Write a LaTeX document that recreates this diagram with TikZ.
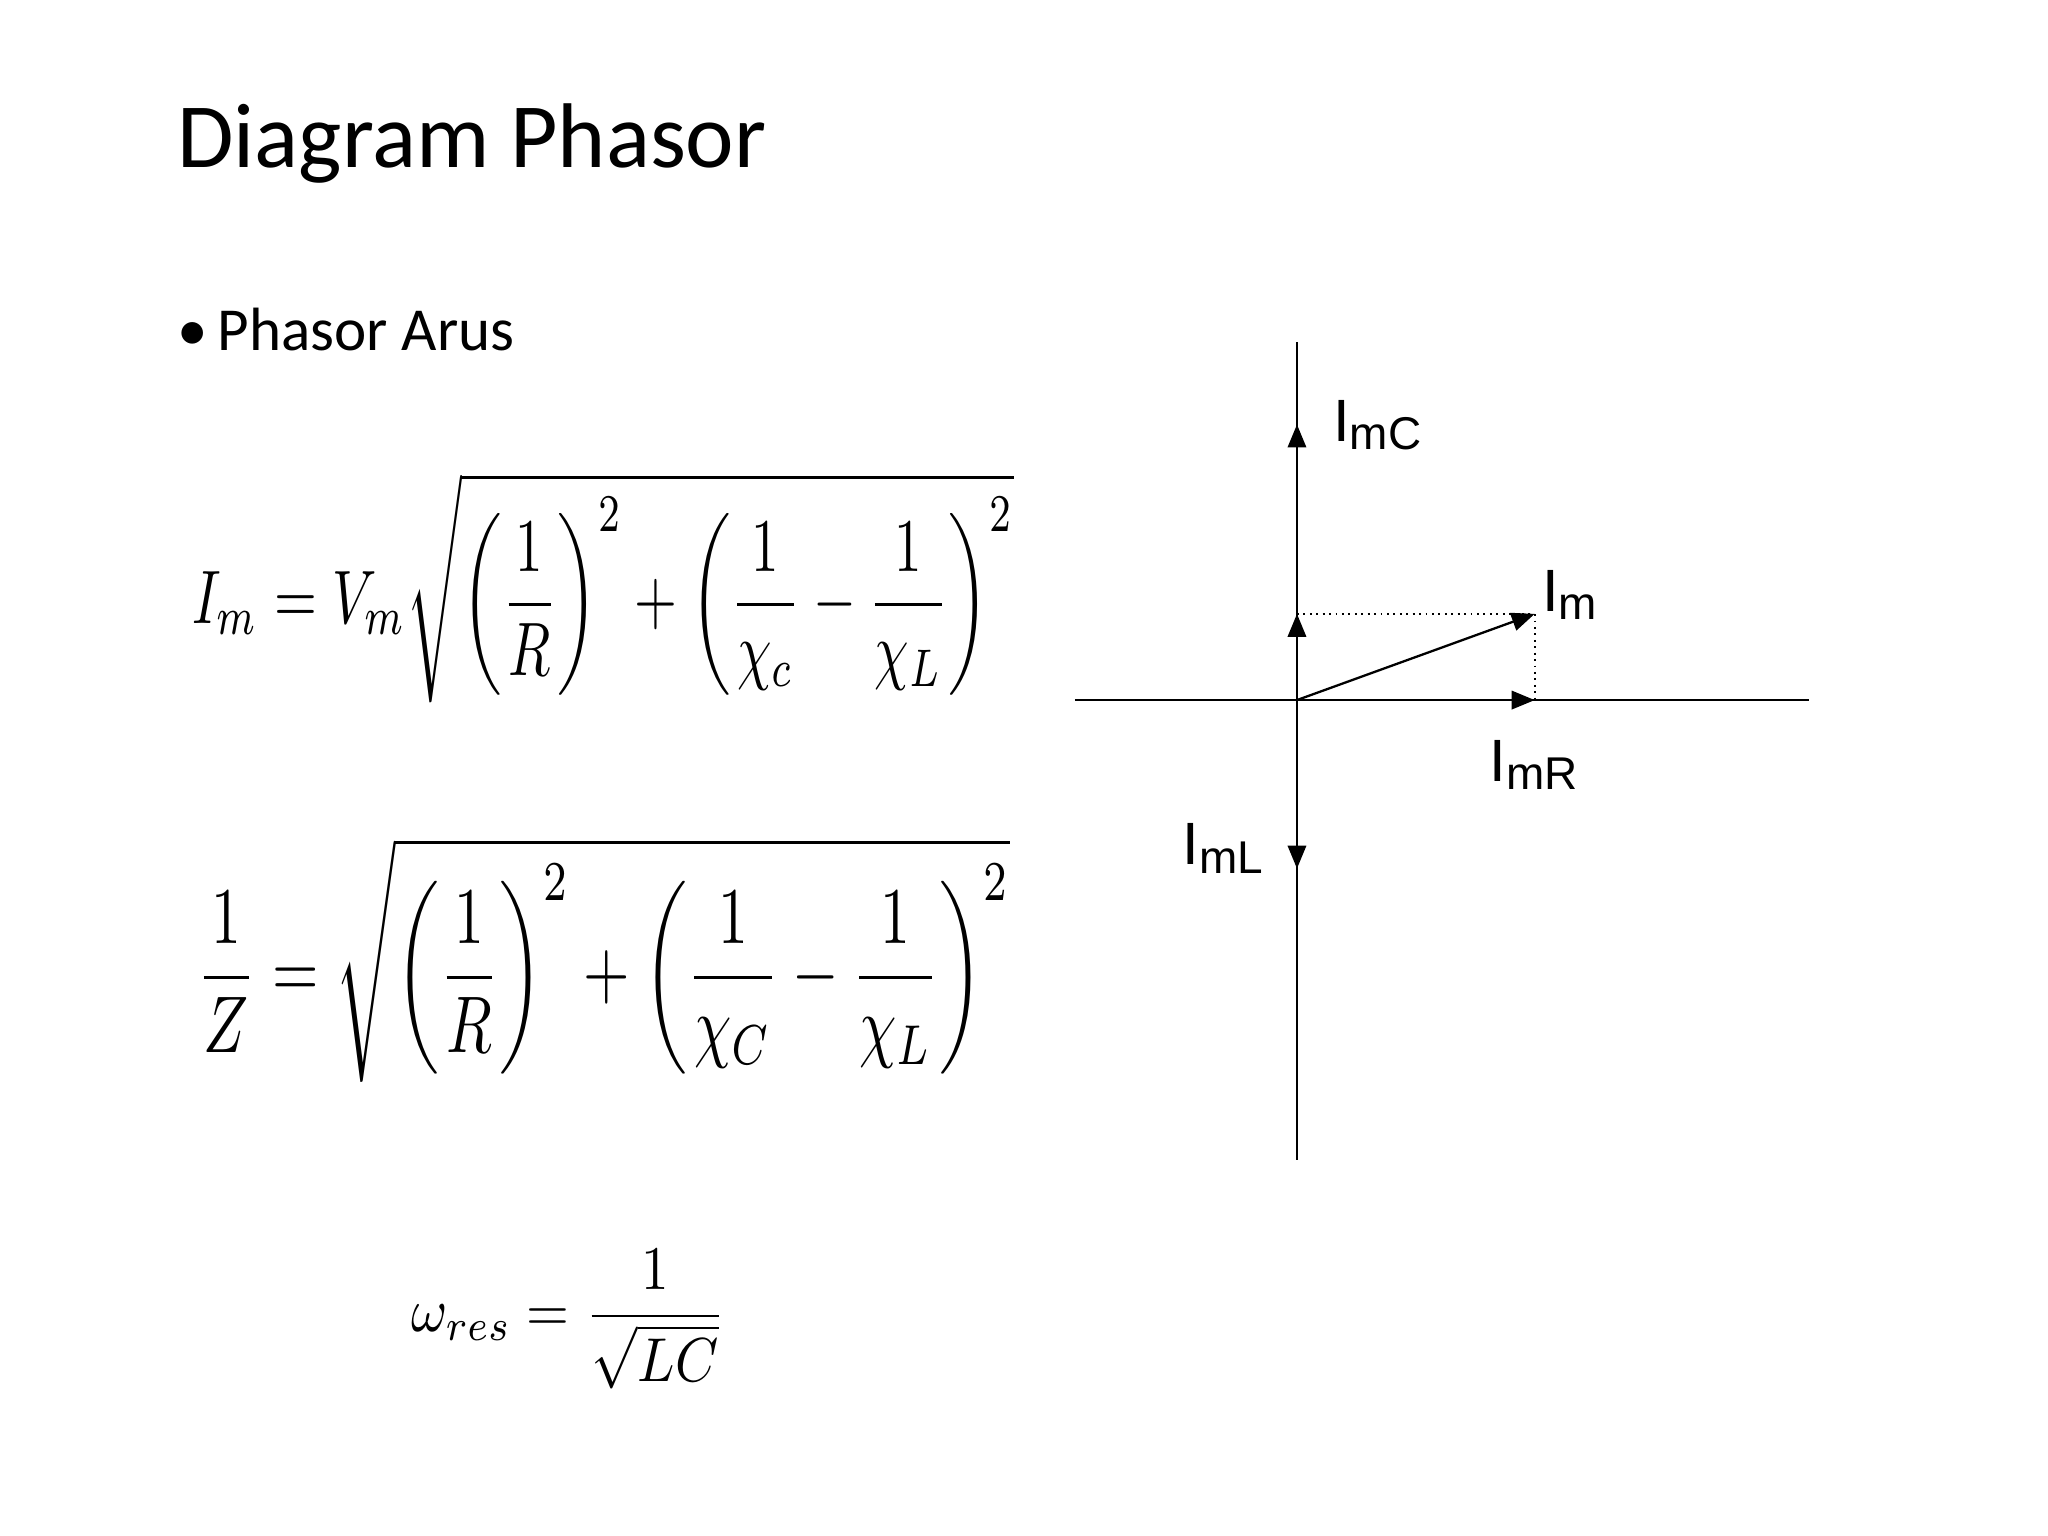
\documentclass[tikz,border=0pt]{standalone}
\usepackage{fontspec}
\usepackage{amsmath}
\setmainfont{Carlito}
\newfontfamily\arial{Liberation Sans}
\usetikzlibrary{arrows.meta}
\begin{document}
\begin{tikzpicture}[x=0.01cm,y=-0.01cm,
  ax/.style={line width=0.5pt},
  arr/.style={line width=0.5pt,-{Triangle[length=5pt,width=4pt]}},
  dot/.style={line width=0.4pt,densely dotted},
  lab/.style={font=\arial\fontsize{13}{15}\selectfont,anchor=base west,inner sep=0},
  eq/.style={anchor=center,inner sep=0}]
\useasboundingbox (0,0) rectangle (1568,1176);
\node[anchor=base west,inner sep=0,font=\fontsize{20}{24}\selectfont] (title) at (135,128) {Diagram Phasor};
\node[anchor=base west,inner sep=0,font=\fontsize{13.3}{16}\selectfont] (bul) at (135,268) {\textbullet\,Phasor Arus};
% axes
\coordinate (O) at (993,536);
\coordinate (vt) at (993,262);
\coordinate (vb) at (993,888);
\coordinate (hl) at (823,536);
\coordinate (hr) at (1385,536);
\coordinate (C) at (993,325);
\coordinate (Cs) at (993,470);
\coordinate (R) at (1175,536);
\coordinate (L) at (993,665);
\coordinate (M) at (1175,470);
\draw[ax] (vt) -- (vb);
\draw[ax] (hl) -- (hr);
\draw[arr] (O) -- (C);
\draw[arr] (O) -- (Cs);
\draw[arr] (O) -- (R);
\draw[arr] (O) -- (L);
\draw[arr] (O) -- (M);
\draw[dot] (Cs) -- (M) -- (R);
\node[lab] (lC) at (1020,338) {I{\fontsize{10}{12}\selectfont\raisebox{-0.35ex}{mC}}};
\node[lab] (lM) at (1180,468) {I{\fontsize{10}{12}\selectfont\raisebox{-0.35ex}{m}}};
\node[lab] (lR) at (1140,598) {I{\fontsize{10}{12}\selectfont\raisebox{-0.35ex}{mR}}};
\node[lab] (lL) at (905,662) {I{\fontsize{10}{12}\selectfont\raisebox{-0.35ex}{mL}}};
% equations
\node[eq] (e1) at (462,450) {\scalebox{1.2}[1.65]{$\displaystyle I_m = V_m\sqrt{\left(\frac{1}{R}\right)^{2}+\left(\frac{1}{\chi_c}-\frac{1}{\chi_L}\right)^{2}}$}};
\node[eq] (e2) at (462,735) {\scalebox{1.3}[1.75]{$\displaystyle \frac{1}{Z} = \sqrt{\left(\frac{1}{R}\right)^{2}+\left(\frac{1}{\chi_C}-\frac{1}{\chi_L}\right)^{2}}$}};
\node[eq] (e3) at (435,1010) {\scalebox{1.2}[1.35]{$\displaystyle \omega_{res} = \frac{1}{\sqrt{LC}}$}};
\end{tikzpicture}
\end{document}
